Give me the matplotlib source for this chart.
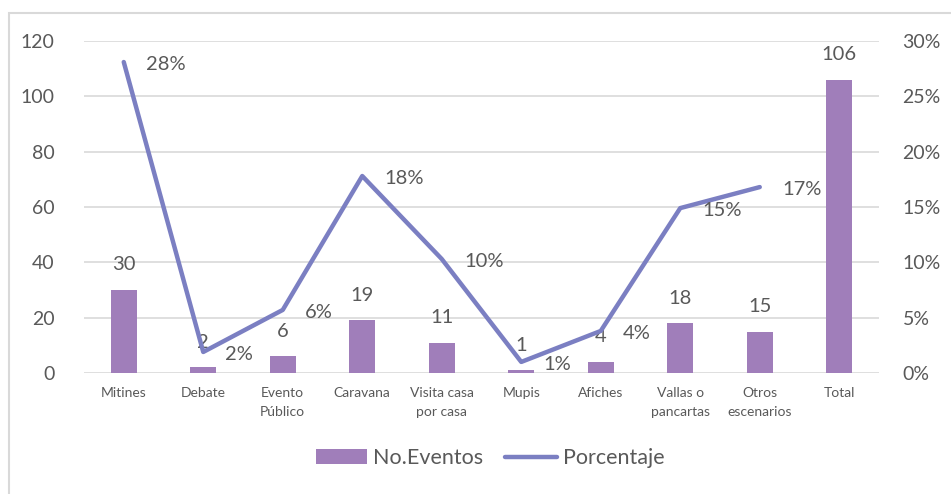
import matplotlib
matplotlib.use("Agg")
import matplotlib.pyplot as plt
from matplotlib.patches import Rectangle
from matplotlib.ticker import FuncFormatter, MultipleLocator

categories = ["Mitines", "Debate", "Evento\nPúblico", "Caravana", "Visita casa\npor casa",
              "Mupis", "Afiches", "Vallas o\npancartas", "Otros\nescenarios", "Total"]
eventos = [30, 2, 6, 19, 11, 1, 4, 18, 15, 106]
porcentaje = [0.281, 0.019, 0.057, 0.178, 0.103, 0.010, 0.038, 0.149, 0.168]
pct_labels = ["28%", "2%", "6%", "18%", "10%", "1%", "4%", "15%", "17%"]

plt.rcParams['font.family'] = ['Lato', 'DejaVu Sans']
txt = '#595959'
bar_c = '#A07EBA'
line_c = '#7B7FC2'
grid_c = '#D9D9D9'

fig = plt.figure(figsize=(9.51, 4.94), dpi=100)
W, H = 951, 494
ax = fig.add_axes([84 / W, 1 - 373 / H, (879 - 84) / W, (373 - 41) / H])

x = list(range(len(categories)))
ax.bar(x, eventos, width=0.33, color=bar_c, zorder=2, label="No.Eventos")
ax.set_xlim(-0.5, len(categories) - 0.5)
ax.set_ylim(0, 120)
ax.yaxis.set_major_locator(MultipleLocator(20))
ax.grid(axis='y', color=grid_c, lw=1.2, zorder=0)
ax.set_axisbelow(True)
for s in ax.spines.values():
    s.set_visible(False)
ax.tick_params(axis='y', length=0, pad=21, labelsize=14, labelcolor=txt)
ax.tick_params(axis='x', length=0, pad=10, labelsize=10, labelcolor=txt)
ax.set_xticks(x)
ax.set_xticklabels(categories, linespacing=1.75, va='top')

for xi, v in zip(x, eventos):
    ax.annotate(str(v), (xi, v), xytext=(0, 18), textcoords='offset points',
                ha='center', va='center', fontsize=14.5, color=txt, zorder=5)

ax2 = ax.twinx()
ax2.set_ylim(0, 0.30)
ax2.yaxis.set_major_locator(MultipleLocator(0.05))
ax2.yaxis.set_major_formatter(FuncFormatter(lambda v, p: f"{v*100:.0f}%"))
ax2.tick_params(axis='y', length=0, pad=17, labelsize=14, labelcolor=txt)
for s in ax2.spines.values():
    s.set_visible(False)
px = x[:len(porcentaje)]
ax2.plot(px, porcentaje, color=line_c, lw=3.2, solid_capstyle='round',
         solid_joinstyle='round', zorder=3, label="Porcentaje")
for xi, v, lab in zip(px, porcentaje, pct_labels):
    ax2.annotate(lab, (xi, v), xytext=(16, -2), textcoords='offset points',
                 ha='left', va='center', fontsize=14.5, color=txt, zorder=5)

h1, l1 = ax.get_legend_handles_labels()
h2, l2 = ax2.get_legend_handles_labels()
fig.legend(h1 + h2, l1 + l2, loc='center', bbox_to_anchor=(490 / W, 1 - 458 / H),
           ncol=2, frameon=False, fontsize=15.5, labelcolor=txt, handlelength=2.4,
           handleheight=0.65, handletextpad=0.28, columnspacing=1.0)

fig.patches.append(Rectangle((8.5 / W, -0.1), 1.2, (1 - 12.5 / H) + 0.1,
                             transform=fig.transFigure, fill=False,
                             edgecolor=grid_c, lw=1.5))

fig.savefig("out.png", dpi=100, facecolor='white')
